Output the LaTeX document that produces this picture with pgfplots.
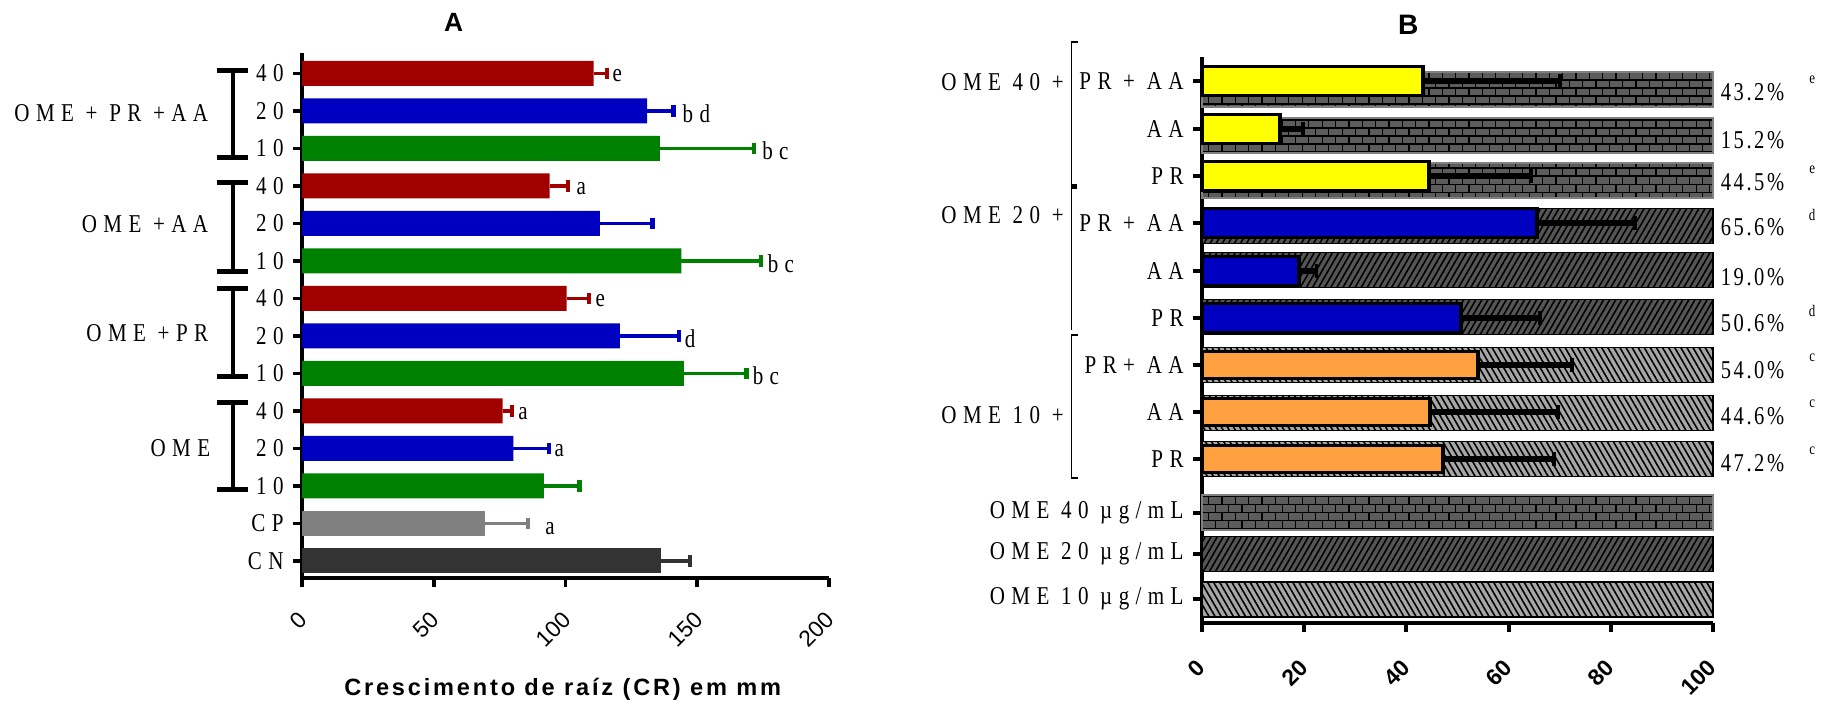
\documentclass[border=0pt]{standalone}
\usepackage{pgfplots}
\pgfplotsset{compat=1.18}
\usetikzlibrary{patterns,patterns.meta}
\usepackage{fontspec}
\setmainfont{Liberation Serif}
\newfontfamily\lab[FakeStretch=0.82,LetterSpace=25]{Liberation Serif}
\newfontfamily\labp[FakeStretch=0.8,LetterSpace=10]{Liberation Serif}
\newfontfamily\sans{Liberation Sans}
\newfontfamily\sansx[LetterSpace=12]{Liberation Sans}
\newcommand\labfont{\lab\fontsize{7.3}{8}\selectfont}
\newcommand\pcfont{\labp\fontsize{7.3}{8}\selectfont}
\newcommand\supfont{\labp\fontsize{4.6}{5}\selectfont}
\definecolor{cred}{HTML}{A00000}
\definecolor{cblue}{HTML}{0000C0}
\definecolor{cgreen}{HTML}{008000}
\definecolor{ccp}{HTML}{808080}
\definecolor{ccn}{HTML}{333333}
\definecolor{cyel}{HTML}{FFFF00}
\definecolor{corg}{HTML}{FFA040}
\definecolor{brickfill}{HTML}{5C5C5C}
\definecolor{nefill}{HTML}{555555}
\definecolor{nwfill}{HTML}{A6A6A6}
\pgfdeclarepatternformonly{mybricks}{\pgfqpoint{-0.3pt}{-0.3pt}}{\pgfqpoint{4.1pt}{4.9pt}}{\pgfqpoint{3.8pt}{4.56pt}}{%
  \pgfsetlinewidth{0.35pt}%
  \pgfpathmoveto{\pgfqpoint{0pt}{0pt}}\pgfpathlineto{\pgfqpoint{3.8pt}{0pt}}%
  \pgfpathmoveto{\pgfqpoint{0pt}{2.28pt}}\pgfpathlineto{\pgfqpoint{3.8pt}{2.28pt}}%
  \pgfpathmoveto{\pgfqpoint{0pt}{0pt}}\pgfpathlineto{\pgfqpoint{0pt}{2.28pt}}%
  \pgfpathmoveto{\pgfqpoint{1.9pt}{2.28pt}}\pgfpathlineto{\pgfqpoint{1.9pt}{4.56pt}}%
  \pgfusepath{stroke}}
\pgfplotsset{
  Aerr/.style={error bars/.cd, x dir=plus, x explicit, error mark=|,
    error bar style={line width=0.9pt, draw=#1},
    error mark options={line width=1.2pt, mark size=1.7pt, draw=#1}},
  Berr/.style={error bars/.cd, x dir=plus, x explicit, error mark=|,
    error bar style={line width=1.6pt, draw=black},
    error mark options={line width=1.1pt, mark size=2pt, draw=black}},
}
\begin{document}
\begin{tikzpicture}
\path[use as bounding box] (0,0) rectangle (18.24cm,7.05cm);
% ---------------- Panel A ----------------
\begin{axis}[
  at={(3.02cm,1.27cm)}, anchor=south west,
  scale only axis, width=5.27cm, height=5.25cm,
  xbar, bar shift=0pt, bar width=25,
  xmin=0, xmax=200, ymin=127, ymax=652,
  axis lines=left, axis line style={line width=1.1pt,-},
  tick align=outside, major tick length=0.09cm,
  tick style={line width=1.1pt,black},
  xtick={0,50,100,150,200}, xticklabels={0,50,100,150,200},
  xticklabel style={font=\sans\fontsize{6.5}{7}\selectfont, xshift=0.1cm, yshift=-0.2cm, rotate=45, anchor=east},
  ytick={144,181.5,219,256.5,294,331.5,369,406.5,444,481.5,519,556.5,594,631.5},
  yticklabels={CN,CP,10,20,40,10,20,40,10,20,40,10,20,40},
  yticklabel style={font=\labfont, xshift=0.03cm},
  clip=false,
]
\addplot[fill=cred, draw=none, Aerr=cred] coordinates {
  (110.7,631.5) +- (5.0,0) (94.0,519) +- (6.8,0) (100.4,406.5) +- (8.4,0) (76.1,294) +- (3.5,0)};
\addplot[fill=cblue, draw=none, Aerr=cblue] coordinates {
  (131.0,594) +- (10.0,0) (113.0,481.5) +- (20.0,0) (120.6,369) +- (22.4,0) (80.2,256.5) +- (13.4,0)};
\addplot[fill=cgreen, draw=none, Aerr=cgreen] coordinates {
  (135.8,556.5) +- (35.8,0) (144.0,444) +- (30.3,0) (144.9,331.5) +- (23.8,0) (91.8,219) +- (13.5,0)};
\addplot[fill=ccp, draw=none, Aerr=ccp] coordinates {(69.3,181.5) +- (16.5,0)};
\addplot[fill=ccn, draw=none, Aerr=ccn] coordinates {(136.4,144) +- (10.7,0)};
\begin{scope}[font=\labfont, inner sep=0pt]
\node[anchor=west] at (axis cs:117.6,629) {e};
\node[anchor=west] at (axis cs:144.2,591) {bd};
\node[anchor=west] at (axis cs:174.4,554) {bc};
\node[anchor=west] at (axis cs:104,516) {a};
\node[anchor=west] at (axis cs:176.5,441) {bc};
\node[anchor=west] at (axis cs:111.2,404) {e};
\node[anchor=west] at (axis cs:145,366) {d};
\node[anchor=west] at (axis cs:170.8,329) {bc};
\node[anchor=west] at (axis cs:81.8,291) {a};
\node[anchor=west] at (axis cs:95.6,254) {a};
\node[anchor=west] at (axis cs:92.1,176) {a};
\end{scope}
\end{axis}
% ---------------- Panel B ----------------
\begin{axis}[
  at={(12.02cm,0.82cm)}, anchor=south west,
  scale only axis, width=5.11cm, height=5.66cm,
  xbar, bar shift=0pt,
  xmin=0, xmax=100, ymin=82, ymax=648,
  axis lines=left, axis line style={line width=1.1pt,-},
  tick align=outside, major tick length=0.09cm,
  tick style={line width=1.1pt,black},
  xtick={0,20,40,60,80,100}, xticklabels={0,20,40,60,80,100},
  xticklabel style={font=\sans\bfseries\fontsize{6.5}{7}\selectfont, xshift=0.08cm, yshift=-0.23cm, rotate=45, anchor=east},
  ytick={106,151,192,246,293,340,387,434,482,529,576,624},
  yticklabels={OME 10 µg/mL,OME 20 µg/mL,OME 40 µg/mL,PR,AA,PR+ AA,PR,AA,PR + AA,PR,AA,PR + AA},
  yticklabel style={font=\labfont, xshift=0.03cm},
  clip=false,
]
\addplot[bar width=35, fill=brickfill, draw=gray, line width=0.4pt,
  postaction={pattern=mybricks, pattern color=black}] coordinates {
  (100,615.5) (100,569.5) (100,524.5) (100,192.5)};
\addplot[bar width=35, fill=nefill, draw=black, line width=0.4pt,
  postaction={pattern={Lines[angle=60,distance=1.5pt,line width=0.45pt]}, pattern color=black}] coordinates {
  (100,479) (100,435) (100,388) (100,151)};
\addplot[bar width=35, fill=nwfill, draw=black, line width=0.4pt,
  postaction={pattern={Lines[angle=-60,distance=1.5pt,line width=0.45pt]}, pattern color=black}] coordinates {
  (100,340) (100,292) (100,246) (100,105.5)};
\addplot[bar width=29, fill=cyel, draw=black, line width=1.1pt, Berr] coordinates {
  (43.2,624) +- (26.8,0) (15.2,576) +- (4.5,0) (44.5,529) +- (19.8,0)};
\addplot[bar width=29, fill=cblue, draw=black, line width=1.1pt, Berr] coordinates {
  (65.6,482) +- (19.2,0) (19.0,434) +- (3.4,0) (50.6,387) +- (15.6,0)};
\addplot[bar width=27, fill=corg, draw=black, line width=1.1pt, Berr] coordinates {
  (54.0,340) +- (18.4,0) (44.6,293) +- (25.1,0) (47.2,246) +- (21.7,0)};
\begin{scope}[font=\pcfont, inner sep=0pt]
\node[anchor=west] at (axis cs:101.4,613) {43.2\%};
\node[anchor=west] at (axis cs:101.4,565) {15.2\%};
\node[anchor=west] at (axis cs:101.4,523) {44.5\%};
\node[anchor=west] at (axis cs:101.4,478) {65.6\%};
\node[anchor=west] at (axis cs:101.4,428) {19.0\%};
\node[anchor=west] at (axis cs:101.4,382) {50.6\%};
\node[anchor=west] at (axis cs:101.4,335) {54.0\%};
\node[anchor=west] at (axis cs:101.4,289) {44.6\%};
\node[anchor=west] at (axis cs:101.4,242) {47.2\%};
\end{scope}
\begin{scope}[font=\supfont]
\node at (axis cs:119.4,625) {e};
\node at (axis cs:119.4,535) {e};
\node at (axis cs:119.4,490) {d};
\node at (axis cs:119.4,394) {d};
\node at (axis cs:119.4,347) {c};
\node at (axis cs:119.4,301) {c};
\node at (axis cs:119.4,254) {c};
\end{scope}
\end{axis}
% ---------------- decorations (pixel coordinates) ----------------
\begin{scope}[x=0.01cm, y=-0.01cm, yshift=7.05cm]
\node[font=\sans\bfseries\fontsize{7.5}{8}\selectfont] at (454,22) {A};
\node[font=\sans\bfseries\fontsize{8}{9}\selectfont] at (1409,25) {B};
\node[font=\sansx\bfseries\fontsize{6.7}{7}\selectfont] at (563,690) {Crescimento de raíz (CR) em mm};
% A brackets
\foreach \a/\b in {71/158, 183/272, 289/377, 403/490}{
  \draw[line width=1.1pt] (233,\a) -- (233,\b);
  \draw[line width=1.4pt] (217,\a) -- (248,\a);
  \draw[line width=1.4pt] (217,\b) -- (248,\b);
}
\begin{scope}[font=\labfont, inner sep=0pt]
\node[anchor=east] at (209,113) {OME + PR +AA};
\node[anchor=east] at (209,224) {OME +AA};
\node[anchor=east] at (209,333) {OME +PR};
\node[anchor=east] at (211,448) {OME};
\end{scope}
% B brackets
\draw[line width=0.5pt] (1079,42) -- (1072,42) -- (1072,187);
\draw[line width=1.4pt] (1072,187) -- (1078,187);
\draw[line width=0.5pt] (1072,187) -- (1072,330);
\draw[line width=0.5pt] (1079,335) -- (1072,335) -- (1072,478) -- (1079,478);
\begin{scope}[font=\labfont, inner sep=0pt]
\node[anchor=east] at (1065,82) {OME 40 +};
\node[anchor=east] at (1065,215) {OME 20 +};
\node[anchor=east] at (1065,415) {OME 10 +};
\end{scope}
\end{scope}
\end{tikzpicture}
\end{document}
